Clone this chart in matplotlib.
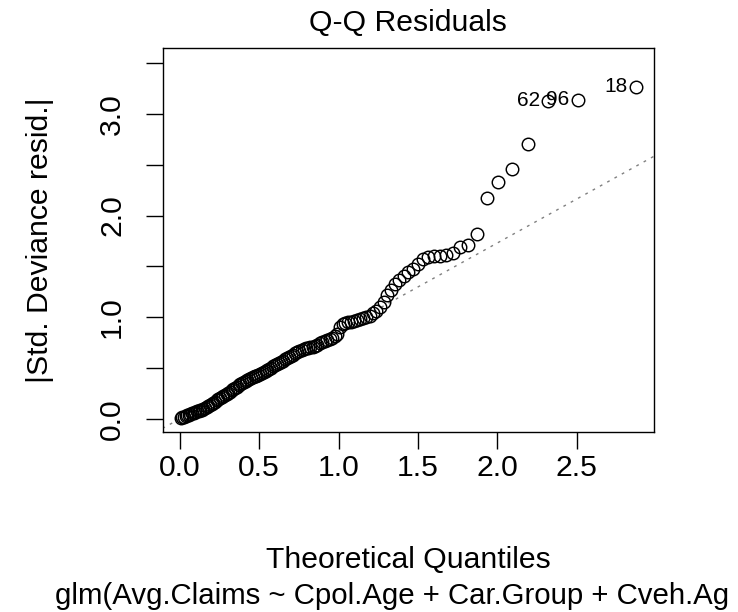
import matplotlib
matplotlib.use("Agg")
import matplotlib.pyplot as plt
from statistics import NormalDist

plt.rcParams['font.family'] = ['Liberation Sans', 'DejaVu Sans']

# ---- data (sorted |std. deviance residuals|) ----
abs_resid = [
    0.01, 0.015, 0.02, 0.03, 0.035, 0.04, 0.05, 0.055, 0.06, 0.07,
    0.075, 0.08, 0.085, 0.09, 0.10, 0.11, 0.12, 0.13, 0.14, 0.15,
    0.16, 0.17, 0.18, 0.19, 0.20, 0.21, 0.22, 0.235, 0.245,
    0.255, 0.265, 0.28, 0.29, 0.30, 0.315, 0.33, 0.34, 0.35,
    0.365, 0.375, 0.38, 0.39, 0.40, 0.41, 0.42, 0.425, 0.435,
    0.445, 0.45, 0.46, 0.47, 0.48, 0.49, 0.50, 0.515, 0.53,
    0.54, 0.55, 0.56, 0.57, 0.585, 0.60, 0.61, 0.62,
    0.63, 0.645, 0.66, 0.67, 0.68, 0.685, 0.695,
    0.70, 0.705, 0.71, 0.72, 0.73, 0.745, 0.76,
    0.77, 0.775, 0.785, 0.80, 0.81, 0.83,
    0.90, 0.93, 0.94, 0.95, 0.955, 0.96,
    0.97, 0.98, 0.99, 1.00, 1.01,
    1.04, 1.06, 1.10, 1.15,
    1.22, 1.27, 1.33, 1.37,
    1.41, 1.44, 1.47, 1.52,
    1.57, 1.59, 1.60,
    1.605, 1.61, 1.63, 1.686, 1.712, 1.814,
    2.17, 2.33, 2.46, 2.70, 3.13, 3.14, 3.27,
]
point_ids = {120: "62", 121: "96", 122: "18"}   # index in sorted order -> label
ref_intercept = 0.0
ref_slope = 0.865

title = "Q-Q Residuals"
xlabel = "Theoretical Quantiles"
ylabel = "|Std. Deviance resid.|"
subtitle = "glm(Avg.Claims ~ Cpol.Age + Car.Group + Cveh.Ag"
xticks = [0.0, 0.5, 1.0, 1.5, 2.0, 2.5]
xticklabels = ["0.0", "0.5", "1.0", "1.5", "2.0", "2.5"]
yticks = [0.0, 0.5, 1.0, 1.5, 2.0, 2.5, 3.0, 3.5]
yticklabels = ["0.0", "", "1.0", "", "2.0", "", "3.0", ""]

# half-normal theoretical quantiles (the Q-Q statistic)
n = len(abs_resid)
nd = NormalDist()
theo = [nd.inv_cdf(0.5 + 0.5 * (i - 0.5) / n) for i in range(1, n + 1)]

W, H, DPI = 738, 612, 100
fig = plt.figure(figsize=(W / DPI, H / DPI), dpi=DPI)
L, R, T, B = 162.5, 654.0, 47.5, 432.0
ax = fig.add_axes([L / W, 1 - B / H, (R - L) / W, (B - T) / H])

FS = 21.7
ax.plot(theo, abs_resid, linestyle='none', marker='o', markersize=9.0,
        markerfacecolor='none', markeredgecolor='black', markeredgewidth=1.05)
ax.axline((0, ref_intercept), slope=ref_slope, color='#808080', lw=1.0,
          linestyle=(0, (2, 4)), zorder=1)

for idx, lab in point_ids.items():
    ax.annotate(lab, (theo[idx], abs_resid[idx]), xytext=(-6, 0),
                textcoords='offset points', ha='right', va='center',
                fontsize=15.0)

# R-style limits
xmin, xmax = min(theo), max(theo)
dx = (xmax - xmin) * 0.04
ax.set_xlim(xmin - dx, xmax + dx)
ymin, ymax = min(abs_resid), max(abs_resid)
ytop = ymax + 0.075 * (ymax - ymin)
dy = (ytop - ymin) * 0.04
ax.set_ylim(ymin - dy, ytop + dy)

ax.set_xticks(xticks)
ax.set_xticklabels(xticklabels)
ax.set_yticks(yticks)
ax.set_yticklabels(yticklabels, rotation=90, va='center')
ax.tick_params(axis='both', direction='out', length=12.2, width=1.0,
               labelsize=FS, color='black')
ax.tick_params(axis='x', pad=4)
ax.tick_params(axis='y', pad=14)
for s in ax.spines.values():
    s.set_linewidth(1.0)

fig.text((L + R) / 2 / W, 1 - 23 / H, title, ha='center', va='center', fontsize=FS)
fig.text((L + R) / 2 / W, 1 - 560 / H, xlabel, ha='center', va='center', fontsize=FS)
fig.text(55 / W, 1 - 596 / H, subtitle, ha='left', va='center', fontsize=21.2)
fig.text(40 / W, 1 - (T + B) / 2 / H, ylabel, ha='center', va='center',
         rotation=90, fontsize=FS)

fig.savefig("out.png", dpi=DPI)
